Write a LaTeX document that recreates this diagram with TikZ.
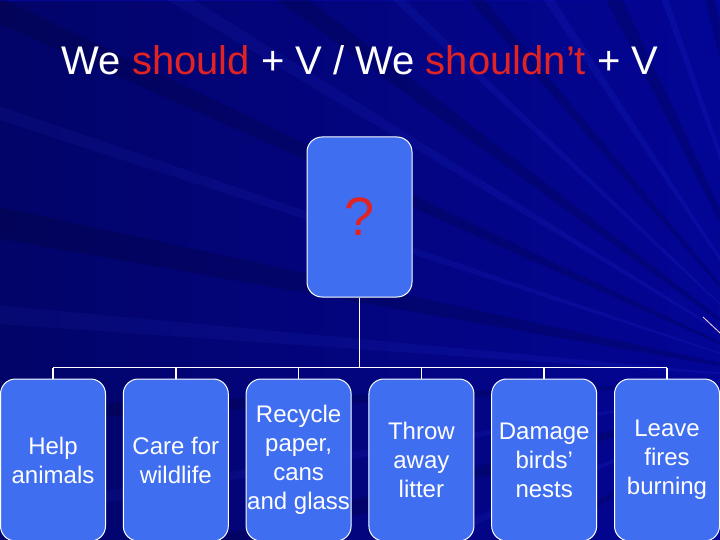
\documentclass[tikz,border=0pt]{standalone}
\usepackage{fontspec}
\setmainfont{Liberation Sans}
\usepackage{tikz}
\usetikzlibrary{positioning,calc,fadings}
\definecolor{slidebg}{RGB}{4,6,150}
\definecolor{raylight}{RGB}{30,40,210}
\definecolor{boxblue}{RGB}{64,110,240}
\definecolor{wordred}{RGB}{225,35,35}
\begin{document}
\begin{tikzpicture}[x=1pt,y=-1pt,
    card/.style={draw=white,line width=1pt,fill=boxblue,rounded corners=15pt,
      minimum width=105pt,minimum height=162pt,inner sep=0pt,align=center,
      text=white,font=\fontsize{24}{29}\selectfont},
    link/.style={draw=white,line width=1.6pt}]
    \useasboundingbox (0,0) rectangle (720,540);
    \clip (0,0) rectangle (720,540);
    \fill[slidebg] (0,0) rectangle (720,540);
    % streaks from the lower right
    \foreach \a/\w in {148/30,163/45,177/25,190/50,204/35,216/40,229/30,243/45,256/30}{
      \fill[black,opacity=.14] (800,380) -- ++(\a:1300) -- ++(\a+90:\w) -- cycle;
    }
    \foreach \a/\w in {156/25,170/20,184/30,198/20,211/25,223/20,236/25,250/20}{
      \fill[raylight,opacity=.22] (800,380) -- ++(\a:1300) -- ++(\a+90:\w) -- cycle;
    }
    \fill[black,opacity=.3,path fading=east] (0,0) rectangle (720,540);
    \draw[pink!60!white,line width=.8pt] (703,317) -- (720,333);
    \node[font=\fontsize{40}{48}\selectfont,text=white] (title) at (360,60)
      {We \textcolor{wordred}{should} + V / We \textcolor{wordred}{shouldn’t} + V};
    \node[card,minimum height=160pt,font=\fontsize{54}{60}\selectfont,text=wordred] (q) at (359.5,217) {?};
    \foreach \i/\txt in {1/{Help\\animals},2/{Care for\\wildlife},3/{Recycle\\paper,\\cans\\and glass},
      4/{Throw\\away\\litter},5/{Damage\\birds’\\nests},6/{Leave\\fires\\burning}}{
      \node[card] (b_\i) at (53+122.8*\i-122.8,460) {\txt};
    }
    \draw[link] (q.south) -- ++(0,70) coordinate (bar);
    \draw[link] (b_1.north |- bar) -- (b_6.north |- bar);
    \foreach \i in {1,...,6}{
      \draw[link] (b_\i.north |- bar) -- (b_\i.north);
    }
  \end{tikzpicture}
\end{document}
